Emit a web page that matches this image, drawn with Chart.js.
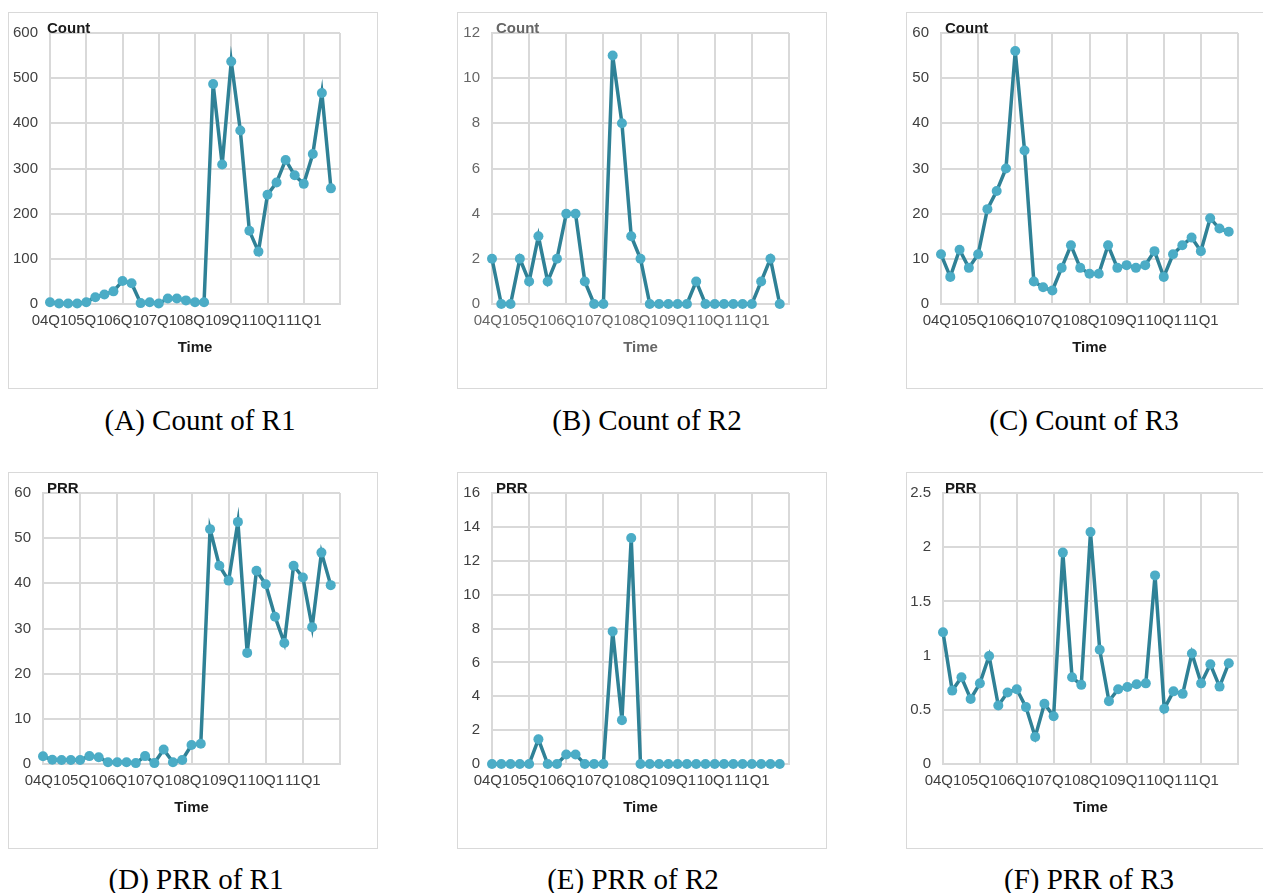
<!DOCTYPE html>
<html>
<head>
<meta charset="utf-8">
<script src="https://cdn.jsdelivr.net/npm/chart.js@4.4.1/dist/chart.umd.min.js"></script>
<style>
  body { margin: 0; background: #fff; width: 1263px; height: 893px; overflow: hidden; position: relative; }
  .panel { position: absolute; width: 370px; height: 377px; }
  .panel .frame { position: absolute; left: 0; top: 0; right: 0; bottom: 0; border: 1px solid #d9d9d9; box-sizing: border-box; }
  .panel .holder { position: absolute; left: 0; top: 0; width: 370px; height: 377px; }
  .caption { position: absolute; font-family: "Liberation Serif", "Times New Roman", serif; font-size: 29px; color: #000;
             transform: translate(-50%, -50%); white-space: nowrap; }
</style>
</head>
<body>

<script>
// year tick labels on the time axis (one every 4 quarters)
const quarterTicks = ['04Q1', '05Q1', '06Q1', '07Q1', '08Q1', '09Q1', '10Q1', '11Q1'];

// 32 quarters per series
const countR1 = [4, 1, 1, 1, 4, 15, 21, 28, 51, 46, 2, 4, 1, 12, 12, 8,
                 4, 4, 487, 309, 537, 384, 162, 116, 242, 269, 319, 285, 266, 332, 467, 256];
const countR2 = [2, 0, 0, 2, 1, 3, 1, 2, 4, 4, 1, 0, 0, 11, 8, 3,
                 2, 0, 0, 0, 0, 0, 1, 0, 0, 0, 0, 0, 0, 1, 2, 0];
const countR3 = [11, 6, 12, 8, 11, 21, 25, 30, 56, 34, 5, 3.7, 3, 8, 13, 8,
                 6.7, 6.7, 13, 8, 8.6, 8, 8.6, 11.7, 6, 11, 13, 14.7, 11.7, 19, 16.7, 16];
const prrR1 = [1.7, 0.95, 0.9, 0.9, 0.9, 1.75, 1.5, 0.4, 0.4, 0.4, 0.2, 1.75, 0.2, 3.2, 0.4, 0.9,
               4.2, 4.5, 52, 43.9, 40.6, 53.6, 24.6, 42.8, 39.8, 32.6, 26.8, 43.9, 41.3, 30.3, 46.8, 39.6];
const prrR2 = [0, 0, 0, 0, 0, 1.46, 0, 0, 0.56, 0.56, 0, 0, 0, 7.83, 2.59, 13.34,
               0, 0, 0, 0, 0, 0, 0, 0, 0, 0, 0, 0, 0, 0, 0, 0];
const prrR3 = [1.215, 0.677, 0.8, 0.6, 0.744, 0.996, 0.54, 0.66, 0.69, 0.525, 0.25, 0.556, 0.44, 1.95, 0.8, 0.73,
               2.14, 1.054, 0.58, 0.69, 0.71, 0.735, 0.744, 1.74, 0.51, 0.67, 0.647, 1.02, 0.744, 0.92, 0.714, 0.93];

const yMaxList = [600, 12, 60, 60, 16, 2.5];
const yStepList = [100, 2, 10, 10, 2, 0.5];

const panels = [
    { id: 'A', left: 8,   top: 12,  capX: 200,  capY: 420, caption: '(A) Count of R1', label: 'Count', values: countR1, yw: 42, ink: '#404040' },
    { id: 'B', left: 457, top: 12,  capX: 647,  capY: 420, caption: '(B) Count of R2', label: 'Count', values: countR2, yw: 35, ink: '#666666' },
    { id: 'C', left: 906, top: 12,  capX: 1084, capY: 420, caption: '(C) Count of R3', label: 'Count', values: countR3, yw: 35, ink: '#404040' },
    { id: 'D', left: 8,   top: 472, capX: 196,  capY: 879, caption: '(D) PRR of R1',   label: 'PRR',   values: prrR1,   yw: 35, ink: '#404040' },
    { id: 'E', left: 457, top: 472, capX: 633,  capY: 879, caption: '(E) PRR of R2',   label: 'PRR',   values: prrR2,   yw: 35, ink: '#404040' },
    { id: 'F', left: 906, top: 472, capX: 1089, capY: 879, caption: '(F) PRR of R3',   label: 'PRR',   values: prrR3,   yw: 37, ink: '#404040' }
];

const sans = '"Liberation Sans", Arial, sans-serif';

// small bold label sitting on the top gridline ("Count" / "PRR")
const cornerLabel = {
    id: 'cornerLabel',
    afterDraw(chart, args, opts) {
        const c = chart.ctx;
        c.save();
        c.font = 'bold 15px ' + sans;
        c.fillStyle = opts.color;
        c.textBaseline = 'alphabetic';
        c.textAlign = 'left';
        c.fillText(opts.text, 39, chart.chartArea.top);
        c.restore();
    }
};

panels.forEach((p, k) => {
    const box = document.createElement('div');
    box.className = 'panel';
    box.style.left = p.left + 'px';
    box.style.top = p.top + 'px';
    box.innerHTML = '<div class="frame"></div><div class="holder"><canvas></canvas></div>';
    document.body.appendChild(box);

    const cap = document.createElement('div');
    cap.className = 'caption';
    cap.style.left = p.capX + 'px';
    cap.style.top = p.capY + 'px';
    cap.textContent = p.caption;
    document.body.appendChild(cap);

    const gridStyle = { color: '#d9d9d9', lineWidth: 2, drawTicks: false };
    const borderStyle = { color: '#d9d9d9', width: 2 };
    const labelInk = k === 1 ? '#666666' : '#1a1a1a';

    new Chart(box.querySelector('canvas'), {
        type: 'line',
        data: {
            datasets: [{
                data: p.values.map((v, i) => ({ x: i, y: v })),
                borderColor: '#2f8196',
                borderWidth: 3.5,
                borderJoinStyle: 'miter',
                tension: 0,
                pointRadius: 5,
                pointBackgroundColor: '#4bacc6',
                pointBorderColor: '#4bacc6',
                pointBorderWidth: 0,
                clip: false
            }]
        },
        options: {
            responsive: true,
            maintainAspectRatio: false,
            animation: false,
            layout: { padding: { top: 19, right: 38, bottom: 0, left: 0 } },
            plugins: {
                legend: { display: false },
                tooltip: { enabled: false },
                cornerLabel: { text: p.label, color: labelInk }
            },
            scales: {
                x: {
                    type: 'linear',
                    min: 0,
                    max: 32,
                    grid: gridStyle,
                    border: borderStyle,
                    ticks: {
                        stepSize: 4,
                        autoSkip: false,
                        maxRotation: 0,
                        minRotation: 0,
                        padding: 8,
                        color: p.ink,
                        font: { size: 15, family: sans },
                        callback: v => quarterTicks[v / 4] || ''
                    },
                    title: {
                        display: true,
                        text: 'Time',
                        color: labelInk,
                        font: { size: 15, weight: 'bold', family: sans },
                        padding: { top: 4, bottom: 32 }
                    },
                    afterFit: s => { s.height = 85; }
                },
                y: {
                    min: 0,
                    max: yMaxList[k],
                    grid: gridStyle,
                    border: borderStyle,
                    ticks: {
                        stepSize: yStepList[k],
                        padding: 12,
                        color: p.ink,
                        font: { size: 15, family: sans },
                        callback: v => String(+v.toFixed(2))
                    },
                    afterFit: s => { s.width = p.yw; }
                }
            }
        },
        plugins: [cornerLabel]
    });
});
</script>
</body>
</html>
